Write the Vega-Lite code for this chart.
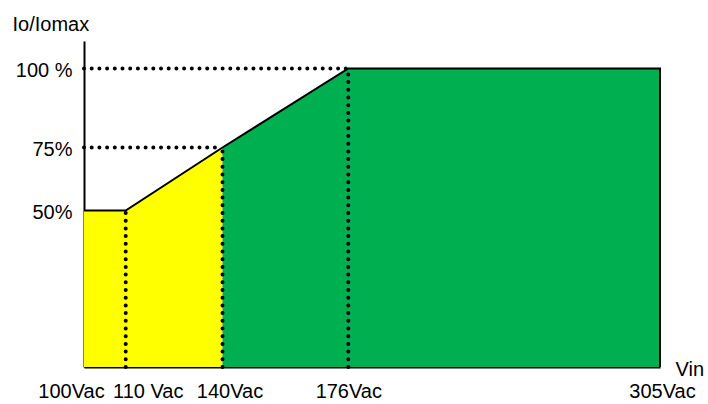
{
  "$schema": "https://vega.github.io/schema/vega-lite/v6.json",
  "autosize": "none",
  "width": 576,
  "height": 326,
  "padding": {"left": 84, "top": 41, "right": 48, "bottom": 37},
  "background": "white",
  "config": {
    "view": {"stroke": null},
    "font": "Liberation Sans",
    "axis": {
      "grid": false,
      "ticks": false,
      "tickSize": 0,
      "domainColor": "black",
      "domainWidth": 2,
      "labelFont": "Liberation Sans",
      "labelFontSize": 20,
      "labelColor": "black",
      "titleFont": "Liberation Sans",
      "titleFontSize": 20,
      "titleFontWeight": "normal",
      "titleColor": "black"
    }
  },
  "datasets": {
    "zones": [
      {"vin": 100, "io": 50, "zone": "low"},
      {"vin": 110, "io": 50, "zone": "low"},
      {"vin": 140, "io": 75, "zone": "low"},
      {"vin": 140, "io": 75, "zone": "high"},
      {"vin": 176, "io": 100, "zone": "high"},
      {"vin": 305, "io": 100, "zone": "high"}
    ],
    "outline": [
      {"vin": 100, "io": 50, "i": 1},
      {"vin": 110, "io": 50, "i": 2},
      {"vin": 140, "io": 75, "i": 3},
      {"vin": 176, "io": 100, "i": 4},
      {"vin": 305, "io": 100, "i": 5},
      {"vin": 305, "io": 0, "i": 6}
    ],
    "guides": [
      {"vin": 100, "io": 100, "vin2": 176, "io2": 100},
      {"vin": 100, "io": 75, "vin2": 140, "io2": 75},
      {"vin": 110, "io": 0, "vin2": 110, "io2": 50},
      {"vin": 140, "io": 0, "vin2": 140, "io2": 75},
      {"vin": 176, "io": 0, "vin2": 176, "io2": 100}
    ]
  },
  "encoding": {
    "x": {
      "field": "vin",
      "type": "quantitative",
      "scale": {"domain": [100, 110, 140, 176, 305], "range": [0, 41.7, 138.5, 264.3, 576], "zero": false, "nice": false},
      "axis": {
        "values": [100, 110, 140, 176, 305],
        "labelExpr": "datum.value == 110 ? '110 Vac' : datum.value + 'Vac'",
        "labelBaseline": "alphabetic",
        "labelPadding": 30,
        "labelFlush": false,
        "labelOverlap": false,
        "labelOffset": {
          "condition": [
            {"test": "datum.value == 100", "value": -13},
            {"test": "datum.value == 110", "value": 22},
            {"test": "datum.value == 140", "value": 7},
            {"test": "datum.value == 305", "value": 2}
          ],
          "value": 0
        },
        "title": "Vin",
        "titleAlign": "left",
        "titleBaseline": "alphabetic",
        "titleX": 591,
        "titleY": 8
      }
    },
    "y": {
      "field": "io",
      "type": "quantitative",
      "stack": null,
      "scale": {"domain": [0, 50, 75, 100, 110], "range": [326, 169.5, 106.5, 27.5, 0], "zero": false, "nice": false},
      "axis": {
        "values": [50, 75, 100],
        "labelExpr": "datum.value == 100 ? '100 %' : datum.value + '%'",
        "labelPadding": 12,
        "labelBaseline": "middle",
        "labelOffset": 2,
        "labelOverlap": false,
        "title": "Io/Iomax",
        "titleAngle": 0,
        "titleAlign": "left",
        "titleBaseline": "alphabetic",
        "titleX": -72,
        "titleY": -11
      }
    }
  },
  "layer": [
    {
      "data": {"name": "zones"},
      "mark": {"type": "area", "opacity": 1},
      "encoding": {
        "color": {
          "field": "zone",
          "type": "nominal",
          "scale": {"domain": ["low", "high"], "range": ["#FFFF00", "#00B050"]},
          "legend": null
        }
      }
    },
    {
      "data": {"name": "guides"},
      "mark": {"type": "rule", "color": "black", "strokeWidth": 4, "strokeCap": "round", "strokeDash": [0, 7.7]},
      "encoding": {
        "x2": {"field": "vin2"},
        "y2": {"field": "io2"}
      }
    },
    {
      "data": {"name": "outline"},
      "mark": {"type": "line", "color": "black", "strokeWidth": 2},
      "encoding": {
        "order": {"field": "i", "type": "quantitative"}
      }
    }
  ]
}
